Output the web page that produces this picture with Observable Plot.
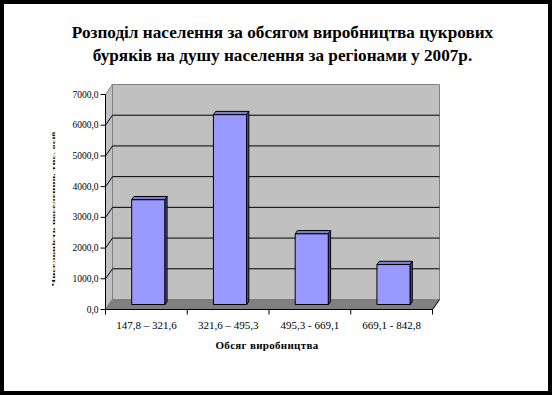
<!DOCTYPE html>
<html>
<head>
<meta charset="utf-8">
<script src="https://cdn.jsdelivr.net/npm/d3@7"></script>
<script src="https://cdn.jsdelivr.net/npm/@observablehq/plot@0.6"></script>
<style>
  html, body { margin: 0; padding: 0; background: #fff; }
  #page { position: relative; width: 552px; height: 395px; overflow: hidden; background: #fff; font-family: "Liberation Serif", "Times New Roman", serif; }
  #frame { position: absolute; left: 0; top: 0; width: 552px; height: 395px; box-sizing: border-box; border: 4px solid #000; pointer-events: none; z-index: 5; }
  #title { position: absolute; left: 10px; width: 545px; top: 21px; text-align: center; font-weight: bold; font-size: 17.2px; line-height: 23px; color: #000; }
  #chart { position: absolute; left: 0; top: 70px; }
  #xtitle { position: absolute; left: 0; width: 534px; top: 339px; text-align: center; font-weight: bold; font-size: 11px; letter-spacing: 0.3px; color: #000; }
  #ytitle { position: absolute; left: 54px; top: 209px; width: 0; height: 0; }
  #ytitle span { position: absolute; white-space: nowrap; font-size: 10.5px; font-weight: bold; transform: translate(-50%, -50%) rotate(-90deg) scale(1, 0.3); left: 0; top: 0; color: #000; }
</style>
</head>
<body>
<div id="page">
  <div id="title">Розподіл населення за обсягом виробництва цукрових<br>буряків на душу населення за регіонами у 2007р.</div>
  <div id="chart"></div>
  <div id="ytitle"><span>Чисельність населення, тис. осіб</span></div>
  <div id="xtitle">Обсяг виробництва</div>
  <div id="frame"></div>
</div>
<script>
// ---- data ----
const categories = ["147,8 – 321,6", "321,6 – 495,3", "495,3 - 669,1", "669,1 - 842,8"];
const values = [3410, 6180, 2300, 1300];
const yTicks = [0, 1000, 2000, 3000, 4000, 5000, 6000, 7000];
const yTickLabels = ["0,0", "1000,0", "2000,0", "3000,0", "4000,0", "5000,0", "6000,0", "7000,0"];

// ---- layout ----
const W = 552, H = 270;
const mL = 105, mR = 120, mT = 24, mB = 31;
const yMax = 7000, nCat = categories.length;
const pxPerX = (W - mL - mR) / nCat;       // px per category unit
const pxPerY = (H - mT - mB) / yMax;       // px per value unit
const AX = 7 / pxPerX;                     // depth offset (data units) for full depth
const AY = 10 / pxPerY;

const P = (id, pts) => pts.map(([x, y, d]) => ({id, x: x + d * AX, y: y + d * AY}));

// walls and floor
const backWall = P("back", [[0, 0, 1], [nCat, 0, 1], [nCat, yMax, 1], [0, yMax, 1]]);
const sideWall = P("side", [[0, 0, 0], [0, yMax, 0], [0, yMax, 1], [0, 0, 1]]);
const floor = P("floor", [[0, 0, 0], [nCat, 0, 0], [nCat, 0, 1], [0, 0, 1]]);

// gridlines
const gridVals = yTicks.filter(v => v > 0 && v < yMax);
const backGrid = gridVals.map(v => ({x1: 0 + AX, y1: v + AY, x2: nCat + AX, y2: v + AY}));
const sideGrid = gridVals.map(v => ({x1: 0, y1: v, x2: AX, y2: v + AY}));

// bars (front face at depth 0.5, back at 0.83)
const d0 = 0.5, d1 = 0.83;
const barL = i => i + 0.325 - d0 * AX;
const barR = i => i + 0.725 - d0 * AX;
const fronts = [], tops = [], sides = [];
values.forEach((v, i) => {
  const l = barL(i), r = barR(i);
  fronts.push(...P("f" + i, [[l, 0, d0], [r, 0, d0], [r, v, d0], [l, v, d0]]));
  tops.push(...P("t" + i, [[l, v, d0], [r, v, d0], [r, v, d1], [l, v, d1]]));
  sides.push(...P("s" + i, [[r, 0, d0], [r, v, d0], [r, v, d1], [r, 0, d1]]));
});

const tickLenX = 5 / pxPerX;
const tickLenY = 5 / pxPerY;

const plot = Plot.plot({
  width: W,
  height: H,
  marginLeft: mL, marginRight: mR, marginTop: mT, marginBottom: mB,
  x: {type: "linear", domain: [0, nCat], axis: null},
  y: {type: "linear", domain: [0, yMax], axis: null},
  style: {fontFamily: "'Liberation Serif', 'Times New Roman', serif", background: "transparent", overflow: "visible"},
  marks: [
    Plot.line(backWall, {x: "x", y: "y", z: "id", curve: "linear-closed", fill: "#c0c0c0", stroke: "#808080", strokeWidth: 1}),
    Plot.line(sideWall, {x: "x", y: "y", z: "id", curve: "linear-closed", fill: "#c0c0c0", stroke: "#808080", strokeWidth: 1}),
    Plot.line(floor, {x: "x", y: "y", z: "id", curve: "linear-closed", fill: "#808080", stroke: "#808080", strokeWidth: 1}),
    Plot.link(backGrid, {x1: "x1", y1: "y1", x2: "x2", y2: "y2", stroke: "#000", strokeWidth: 1}),
    Plot.link(sideGrid, {x1: "x1", y1: "y1", x2: "x2", y2: "y2", stroke: "#000", strokeWidth: 1}),
    // floor right edge
    Plot.link([{x1: nCat, y1: 0, x2: nCat + AX, y2: AY}], {x1: "x1", y1: "y1", x2: "x2", y2: "y2", stroke: "#000", strokeWidth: 1}),
    // front axes
    Plot.link([{x1: 0, y1: 0, x2: 0, y2: yMax}, {x1: 0, y1: 0, x2: nCat, y2: 0}], {x1: "x1", y1: "y1", x2: "x2", y2: "y2", stroke: "#000", strokeWidth: 1}),
    // y ticks
    Plot.link(yTicks, {x1: -tickLenX, x2: 0, y1: d => d, y2: d => d, stroke: "#000", strokeWidth: 1}),
    Plot.text(yTicks, {x: 0, y: d => d, text: (d, i) => yTickLabels[i], dx: -7, textAnchor: "end", fontSize: 9.5, fill: "#000"}),
    // x ticks
    Plot.link(d3.range(nCat + 1), {x1: d => d, x2: d => d, y1: -tickLenY, y2: 0, stroke: "#000", strokeWidth: 1}),
    Plot.text(categories, {x: (d, i) => i + 0.5, y: 0, text: d => d, dy: 16, fontSize: 11, fill: "#000"}),
    // bars
    Plot.line(sides, {x: "x", y: "y", z: "id", curve: "linear-closed", fill: "#4d4d9a", stroke: "#000", strokeWidth: 1}),
    Plot.line(tops, {x: "x", y: "y", z: "id", curve: "linear-closed", fill: "#7d7dd6", stroke: "#000", strokeWidth: 1}),
    Plot.line(fronts, {x: "x", y: "y", z: "id", curve: "linear-closed", fill: "#9999ff", stroke: "#000", strokeWidth: 1})
  ]
});
document.getElementById("chart").appendChild(plot);
</script>
</body>
</html>
